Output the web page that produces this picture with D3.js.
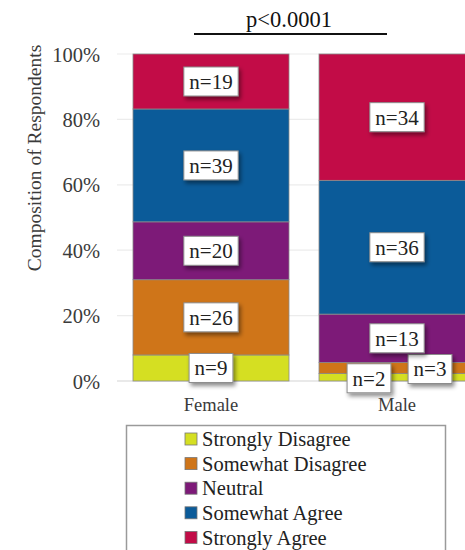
<!DOCTYPE html>
<html>
<head>
<meta charset="utf-8">
<script src="https://cdn.jsdelivr.net/npm/d3@7"></script>
<style>
  html, body { margin: 0; padding: 0; background: #fff; }
  svg { display: block; }
</style>
</head>
<body>
<svg id="chart" width="465" height="550"></svg>
<script>
// Survey responses by gender (counts per response level)
const groups = ["Female", "Male"];
const responses = ["Strongly Disagree", "Somewhat Disagree", "Neutral", "Somewhat Agree", "Strongly Agree"];
const femaleCounts = [9, 26, 20, 39, 19];
const maleCounts = [2, 3, 13, 36, 34];
const responseColors = ["#d5df22", "#cf7519", "#7d1a78", "#0b5b99", "#c20c47"];
const yTicks = [0, 0.2, 0.4, 0.6, 0.8, 1.0];
const significance = "p<0.0001";

const SERIF = "'Liberation Serif', 'Times New Roman', serif";
const svg = d3.select("#chart").style("font-family", SERIF);

// Drop shadow for the count labels
const defs = svg.append("defs");
const shadow = defs.append("filter").attr("id", "shadow")
  .attr("x", "-30%").attr("y", "-30%").attr("width", "170%").attr("height", "180%");
shadow.append("feDropShadow").attr("dx", 2).attr("dy", 3)
  .attr("stdDeviation", 2).attr("flood-color", "#000").attr("flood-opacity", 0.45);

const x = d3.scaleBand().domain(groups).range([117, 491])
  .paddingInner(0.1613).paddingOuter(0.086);
const y = d3.scaleLinear().domain([0, 1]).range([381, 54]);

// Gridlines
svg.append("g").selectAll("line").data(yTicks).join("line")
  .attr("x1", 117).attr("x2", 465)
  .attr("y1", d => y(d)).attr("y2", d => y(d))
  .attr("stroke", d => d === 0 ? "#d4d4d4" : "#ececec")
  .attr("stroke-width", 1.2);

// Y axis tick labels
const yAxis = d3.axisLeft(y).tickValues(yTicks).tickFormat(d3.format(".0%")).tickSize(0).tickPadding(0);
const yg = svg.append("g").attr("transform", "translate(100,0)").call(yAxis);
yg.select(".domain").remove();
yg.selectAll("text")
  .style("font-family", SERIF)
  .attr("font-size", 20.5).attr("fill", "#3b3b3b").attr("dy", "0.35em");

// Y axis title
svg.append("text")
  .attr("transform", "translate(41,158) rotate(-90)")
  .attr("text-anchor", "middle")
  .style("font-family", SERIF)
  .attr("font-size", 19.5).attr("fill", "#3b3b3b")
  .text("Composition of Respondents");

// Stack the proportions
const countsByGroup = { Female: femaleCounts, Male: maleCounts };
const rows = groups.map(g => {
  const c = countsByGroup[g];
  const total = d3.sum(c);
  const row = { group: g };
  responses.forEach((r, i) => { row[r] = c[i] / total; row["n_" + r] = c[i]; });
  return row;
});
const stack = d3.stack().keys(responses);
const series = stack(rows);
const color = d3.scaleOrdinal().domain(responses).range(responseColors);

const barG = svg.append("g");
series.forEach(s => {
  barG.selectAll(null).data(s).join("rect")
    .attr("x", d => x(d.data.group))
    .attr("width", x.bandwidth())
    .attr("y", d => y(d[1]))
    .attr("height", d => y(d[0]) - y(d[1]))
    .attr("fill", color(s.key))
    .attr("stroke", "#8a8a8a").attr("stroke-width", 0.8);
});

// Count labels; small segments get their labels nudged sideways
const labelNudge = { "Male|Strongly Disagree": [-28, 1], "Male|Somewhat Disagree": [33, 1] };
const labelG = svg.append("g");
series.forEach(s => {
  s.forEach(d => {
    const key = d.data.group + "|" + s.key;
    const nudge = labelNudge[key] || [0, 0];
    const cx = x(d.data.group) + x.bandwidth() / 2 + nudge[0];
    const cy = (y(d[0]) + y(d[1])) / 2 + nudge[1];
    const g = labelG.append("g").attr("transform", `translate(${cx},${cy})`);
    const rect = g.append("rect").attr("fill", "#fff")
      .attr("stroke", "#8c8c8c").attr("stroke-width", 1)
      .attr("filter", "url(#shadow)");
    const t = g.append("text").attr("text-anchor", "middle").attr("dy", "0.35em")
      .style("font-family", SERIF)
      .attr("font-size", 21).attr("fill", "#222")
      .text("n=" + d.data["n_" + s.key]);
    const w = t.node().getComputedTextLength() + 11;
    rect.attr("x", -w / 2).attr("y", -14.5).attr("width", w).attr("height", 29);
  });
});

// Category labels
svg.append("g").selectAll("text").data(groups).join("text")
  .attr("x", d => x(d) + x.bandwidth() / 2).attr("y", 411)
  .attr("text-anchor", "middle")
  .style("font-family", SERIF)
  .attr("font-size", 18.5).attr("fill", "#3b3b3b")
  .text(d => d);

// Significance bracket
svg.append("line").attr("x1", 194).attr("x2", 387).attr("y1", 34).attr("y2", 34)
  .attr("stroke", "#111").attr("stroke-width", 2);
svg.append("text").attr("x", 289).attr("y", 27).attr("text-anchor", "middle")
  .style("font-family", SERIF)
  .attr("font-size", 22.5).attr("fill", "#111").text(significance);

// Legend
const legend = svg.append("g");
legend.append("rect").attr("x", 126.5).attr("y", 425.5).attr("width", 319).attr("height", 140)
  .attr("fill", "#fff").attr("stroke", "#9a9a9a").attr("stroke-width", 1.5);
const li = legend.selectAll("g.item").data(responses).join("g").attr("class", "item")
  .attr("transform", (d, i) => `translate(185,${439 + i * 24.6})`);
li.append("rect").attr("x", 0).attr("y", -6).attr("width", 12).attr("height", 12)
  .attr("fill", d => color(d)).attr("stroke", "#777").attr("stroke-width", 0.8);
li.append("text").attr("x", 17).attr("dy", "0.35em")
  .style("font-family", SERIF)
  .attr("font-size", 20.5).attr("fill", "#222")
  .text(d => d);
</script>
</body>
</html>
